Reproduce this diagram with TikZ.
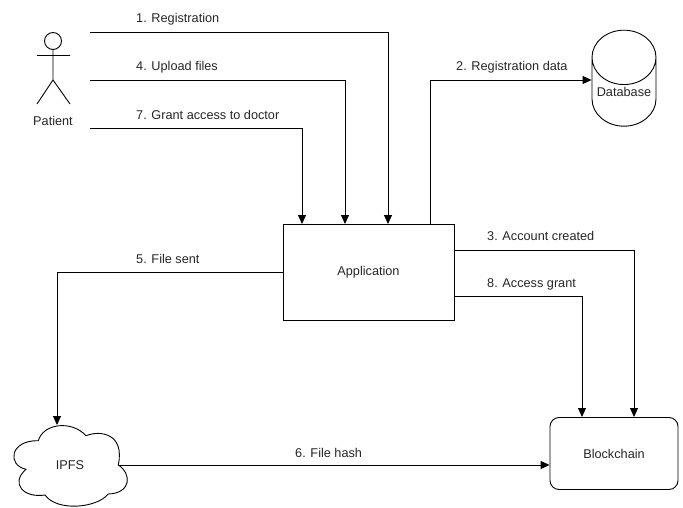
\documentclass[tikz,border=0pt]{standalone}
\usepackage{fontspec}
\setmainfont{Liberation Sans}
\usetikzlibrary{arrows.meta, shapes.geometric}
\tikzset{
    flow/.style={-{Triangle[length=9pt,width=8pt]}, line width=0.9pt},
    lbl/.style={anchor=west, inner sep=0pt, text=black!85},
    boxed/.style={draw, line width=0.9pt, text=black!85, align=center}
}

\begin{document}
\begin{tikzpicture}[x=1pt, y=-1pt, font=\fontsize{12.7}{15}\selectfont]
    \useasboundingbox (0, 0) rectangle (683, 508);

    \node[boxed, minimum width=171pt, minimum height=96pt] (app) at (368.5, 272.5) {Application};
    \node[boxed, rounded corners=9pt, minimum width=128pt, minimum height=72pt] (chain) at (614, 453.5) {Blockchain};
    \node[boxed, cylinder, shape border rotate=90, aspect=1, minimum width=64pt, minimum height=96pt, inner sep=0pt] (db) at (624, 92) {Database};

    % patient
    \draw[line width=0.9pt] (53, 41) circle (8.5);
    \draw[line width=0.9pt] (53, 49.5) -- (53, 80) (37, 55.5) -- (70, 55.5)
        (37, 104) -- (53, 80) -- (70, 104);
    \node[text=black!85] (patient) at (53, 121) {Patient};

    % cloud
    \draw[line width=0.9pt] (38.3, 440.7) .. controls (43.3, 423.3) and (71.7, 420) .. (86, 435.7)
        .. controls (100, 430) and (125, 433.3) .. (118.3, 465)
        .. controls (131.7, 473.3) and (131.7, 493.3) .. (108.3, 494)
        .. controls (96.7, 508.3) and (56.7, 511.7) .. (45, 495)
        .. controls (23.3, 498.3) and (10, 483.3) .. (26, 469.3)
        .. controls (6.7, 465) and (10, 440) .. cycle;
    \node[text=black!85] (ipfs) at (70, 465) {IPFS};
    \coordinate (ipfsTop) at (57, 425);
    \coordinate (ipfsRight) at (118.3, 465);

    \coordinate (reg) at (90, 32);
    \coordinate (upload) at (90, 80);
    \coordinate (grant) at (90, 128);
    \coordinate (regIn) at (388, 224);
    \coordinate (uploadIn) at (345, 224);
    \coordinate (grantIn) at (302, 224);
    \coordinate (dataOut) at (430, 224);
    \coordinate (acctOut) at (454, 250);
    \coordinate (accessOut) at (454, 296);
    \coordinate (acctIn) at (634, 417);
    \coordinate (accessIn) at (582, 417);

    \draw[flow] (reg) -| (regIn);
    \draw[flow] (upload) -| (uploadIn);
    \draw[flow] (grant) -| (grantIn);
    \draw[flow] (dataOut) |- ([yshift=12pt]db.west);
    \draw[flow] (acctOut) -| (acctIn);
    \draw[flow] (accessOut) -| (accessIn);
    \draw[flow] (app.west) -| (ipfsTop);
    \draw[flow] (ipfsRight) -- (ipfsRight -| chain.west);

    \node[lbl] (l1) at (136, 19) {1. Registration};
    \node[lbl] (l2) at (456, 67) {2. Registration data};
    \node[lbl] (l3) at (487, 236) {3. Account created};
    \node[lbl] (l4) at (136, 67) {4. Upload files};
    \node[lbl] (l5) at (136, 259) {5. File sent};
    \node[lbl] (l6) at (295, 453) {6. File hash};
    \node[lbl] (l7) at (136, 115) {7. Grant access to doctor};
    \node[lbl] (l8) at (487, 284) {8. Access grant};
\end{tikzpicture}
\end{document}
